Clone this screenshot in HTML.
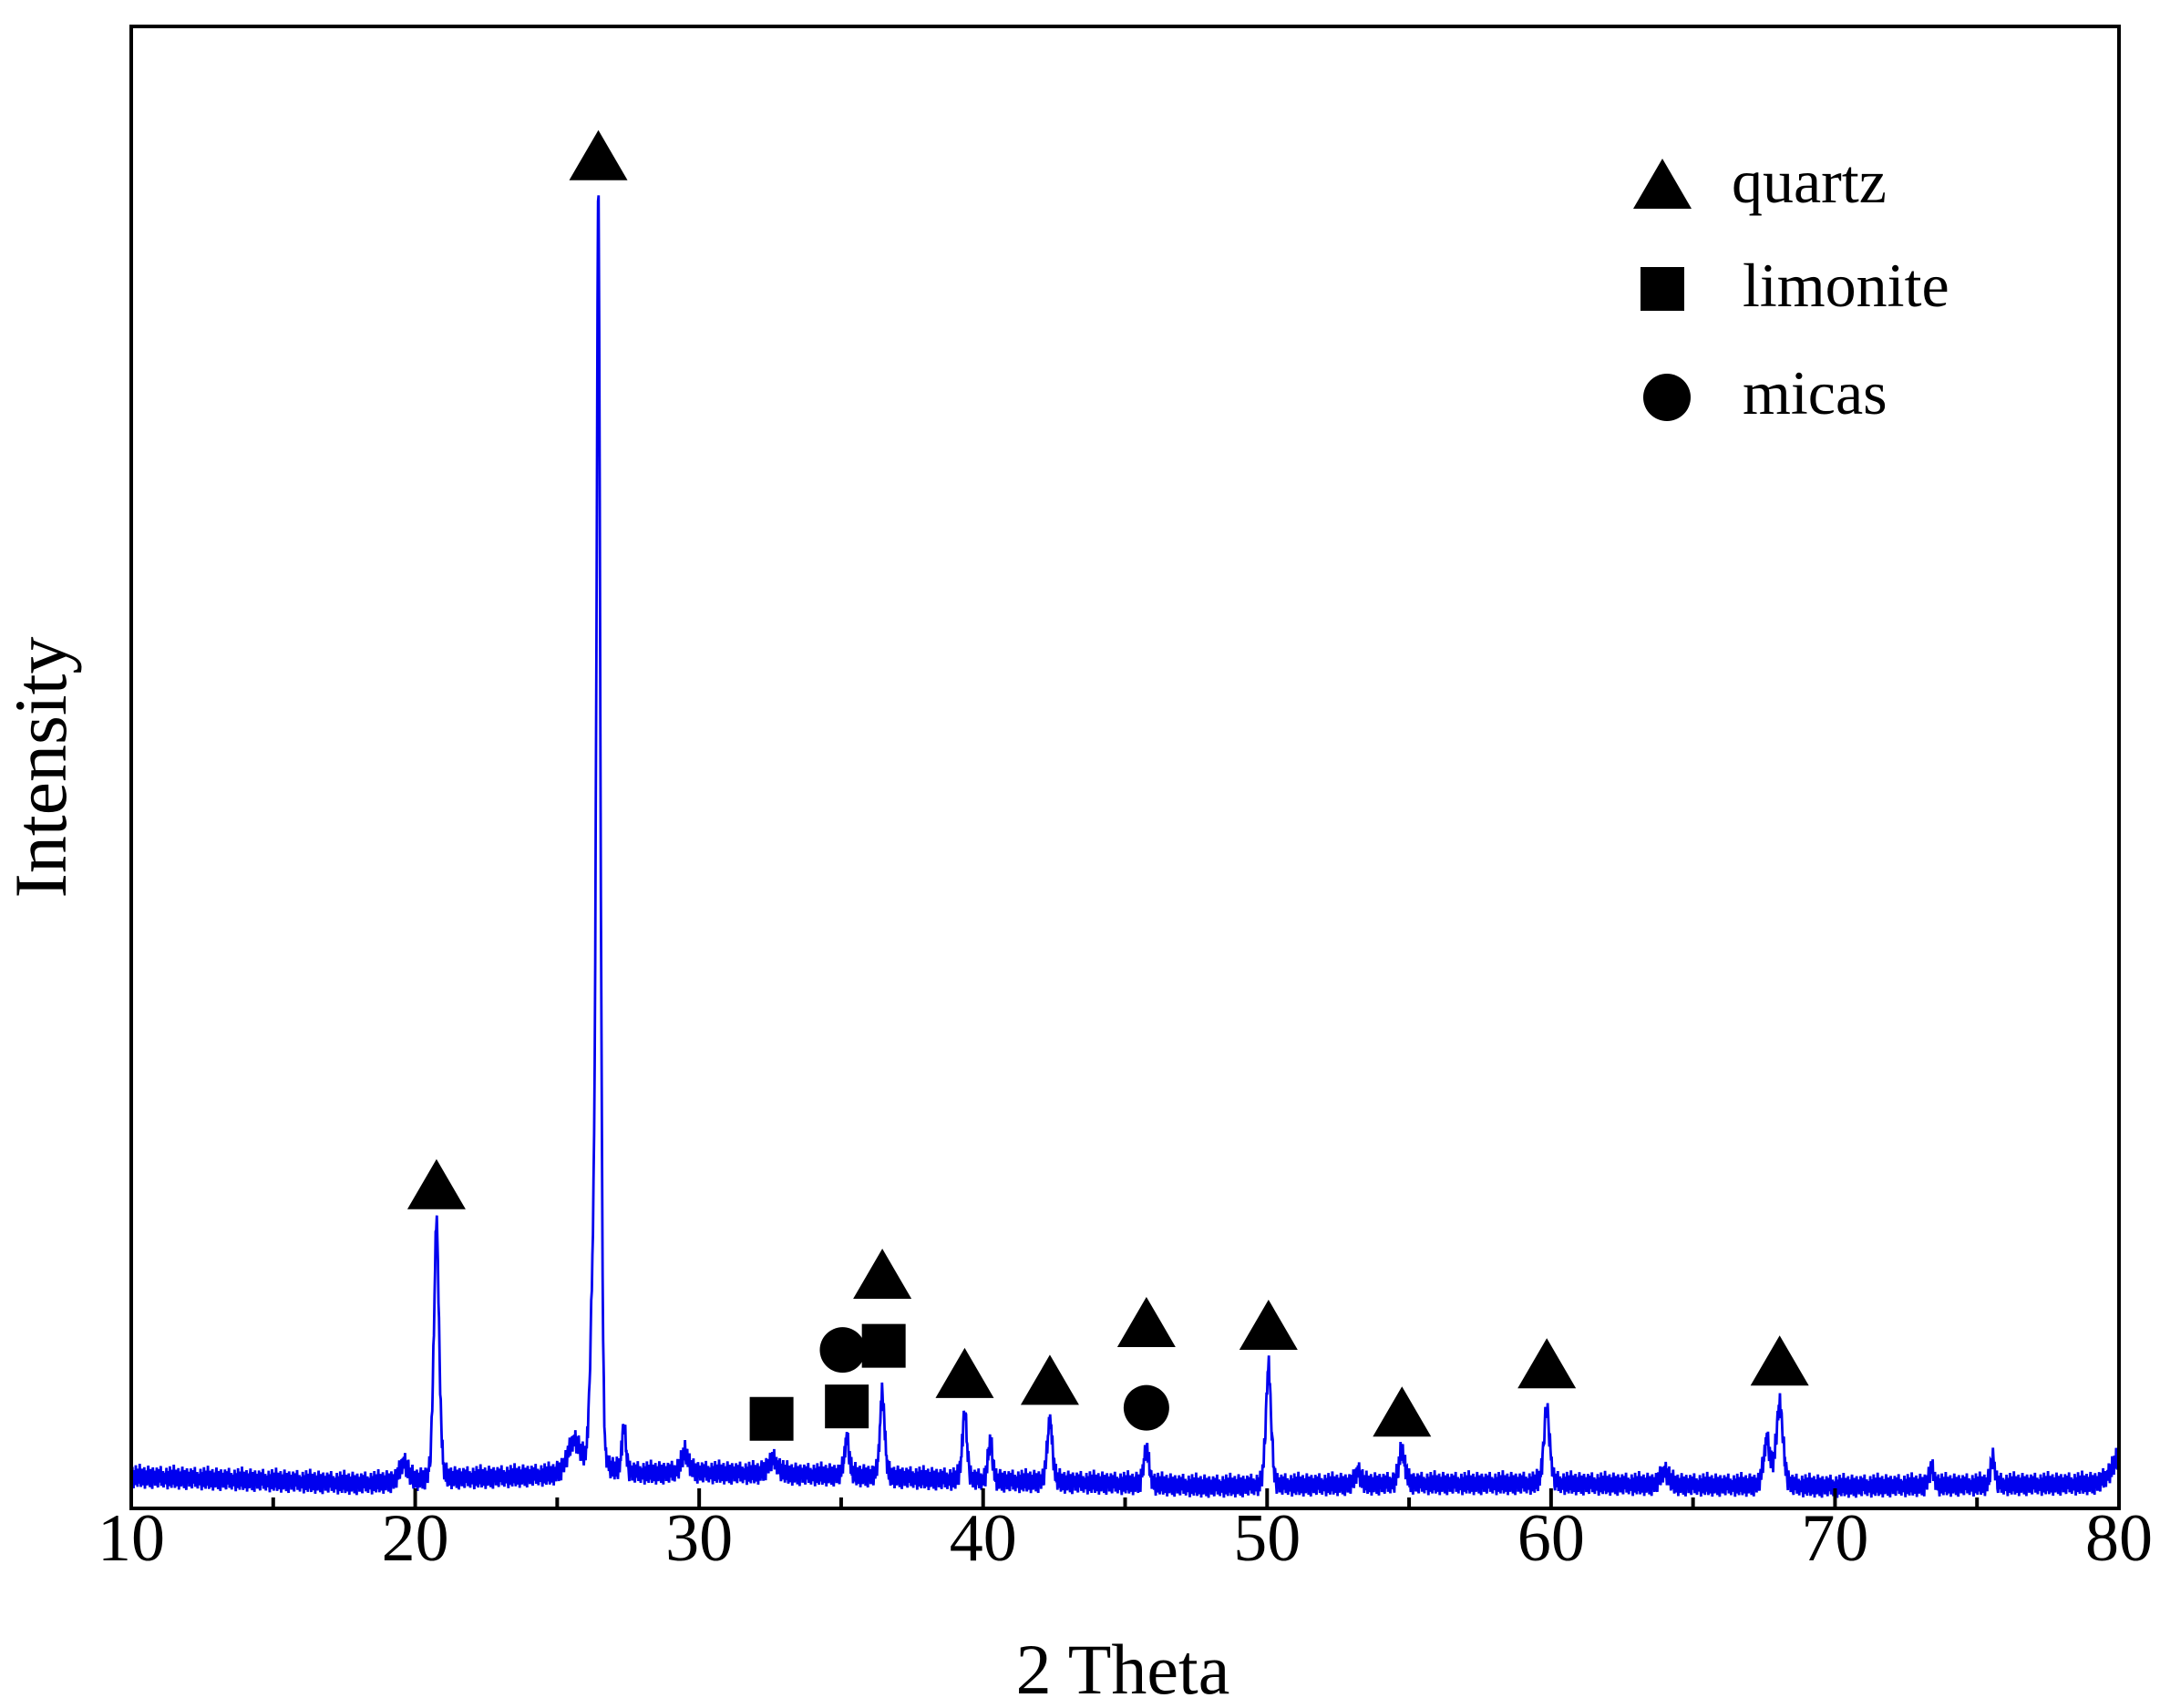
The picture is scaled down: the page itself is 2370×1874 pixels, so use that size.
<!DOCTYPE html>
<html><head><meta charset="utf-8"><style>
html,body{margin:0;padding:0;background:#fff;}
svg{display:block;}
text{font-family:"Liberation Serif",serif;fill:#000;}
</style></head><body>
<svg id="chart" width="2370" height="1874" viewBox="0 0 2370 1874" xmlns="http://www.w3.org/2000/svg">
<g id="plot"></g>
<g id="xaxis"></g>
<rect x="144" y="29" width="2181" height="1626" fill="none" stroke="#000" stroke-width="4"/>
<text x="1232" y="1858" font-size="78" text-anchor="middle">2 Theta</text>
<text transform="translate(72,842) rotate(-90)" font-size="82" text-anchor="middle">Intensity</text>
<g>
<polygon points="1824,174 1792,229 1856,229" fill="#000"/>
<text x="1900" y="222" font-size="68">quartz</text>
<rect x="1800" y="293" width="48" height="48" fill="#000"/>
<text x="1912" y="336" font-size="68">limonite</text>
<circle cx="1829" cy="436" r="26" fill="#000"/>
<text x="1912" y="454" font-size="68">micas</text>
</g>
<g id="markers"></g>
</svg>
<script>
// peak list: 2theta position, height (intensity units), sigma (deg)
const peakPos = [19.6, 20.75, 25.6, 26.25, 26.45, 27.35, 29.5, 32.6, 35.2, 36.45, 39.35, 40.25, 42.35, 45.75, 50.05, 53.2, 54.75, 59.85, 64.0, 67.6, 68.05, 73.4, 75.55, 80.0];
const peakHeight = [14, 190, 24, 120, 925, 34, 14, 10, 28, 62, 50, 28, 46, 26, 88, 10, 24, 56, 10, 34, 60, 12, 20, 18];
const peakWidth = [0.15, 0.1, 0.25, 0.1, 0.08, 0.08, 0.15, 0.2, 0.09, 0.09, 0.09, 0.09, 0.1, 0.1, 0.1, 0.1, 0.12, 0.11, 0.15, 0.12, 0.13, 0.1, 0.08, 0.3];
// background: 2theta and intensity level
const bgPos = [10, 15, 18, 22, 25, 30, 35, 40, 45, 48, 55, 60, 65, 70, 80];
const bgLevel = [23, 20, 18, 22, 24, 26, 24, 20, 18, 16, 18, 18, 17, 16, 18];
// hand-read noise pattern (intensity units)
const noise = [3,-4,6,-2,-7,4,1,-5,7,-3,2,-6,5,0,-4,8,-2,-6,3,5,-5,1,-3,6,-7,2,4,-1,-5,3,7,-4,0,-6,5,2,-3,-7,6,1,-2,4,-5,3,-1,6,-4,-6,2,5,-3,0,7,-5,1,-2,4,-6,3,-1];
// markers
const triX = [20.75, 26.45, 36.45, 39.35, 42.35, 45.75, 50.05, 54.75, 59.85, 68.05];
const triY = [235, 982, 170, 98, 93, 135, 133, 70, 105, 107];
const sqX = [32.55, 35.2, 36.5];
const sqY = [65, 74, 118];
const circX = [35.05, 45.75];
const circY = [115, 73];
const xTicks = [10, 20, 30, 40, 50, 60, 70, 80];

const L=144, R=2325, B=1655, S=1.5115;
const xs = t => L + (t-10)/70*(R-L);
const ys = v => B - v*S;
const NS='http://www.w3.org/2000/svg';
function bg(t){for(let i=0;i<bgPos.length-1;i++){if(t<=bgPos[i+1]){const f=(t-bgPos[i])/(bgPos[i+1]-bgPos[i]);return bgLevel[i]+f*(bgLevel[i+1]-bgLevel[i]);}}return bgLevel[bgLevel.length-1];}
let d='';let k=0;
for(let t=10;t<=80.0001;t+=0.02){
  let v=bg(t)+noise[k%noise.length]*1.2;k++;
  for(let j=0;j<peakPos.length;j++){const z=(t-peakPos[j])/peakWidth[j];v+=peakHeight[j]*(0.7*Math.exp(-0.5*z*z)+0.3/(1+z*z*2));}
  d+=(d?'L':'M')+xs(t).toFixed(1)+','+ys(v).toFixed(1);
}
const plot=document.getElementById('plot');
const p=document.createElementNS(NS,'path');


p.setAttribute('d',d);p.setAttribute('fill','none');p.setAttribute('stroke','#0000ee');p.setAttribute('stroke-width','2.8');
plot.appendChild(p);

const xa=document.getElementById('xaxis');
for(let t=10;t<=80;t+=5){
  const major=t%10===0;
  const ln=document.createElementNS(NS,'line');
  
  
  ln.setAttribute('x1',xs(t));ln.setAttribute('x2',xs(t));ln.setAttribute('y1',B);ln.setAttribute('y2',B-(major?22:12));
  ln.setAttribute('stroke','#000');ln.setAttribute('stroke-width','4');xa.appendChild(ln);
}
xTicks.forEach(t=>{
  const tx=document.createElementNS(NS,'text');
  
  
  tx.setAttribute('x',xs(t));tx.setAttribute('y',1712);tx.setAttribute('font-size','74');tx.setAttribute('text-anchor','middle');
  tx.textContent=t;xa.appendChild(tx);
});
const mk=document.getElementById('markers');
triX.forEach((t,i)=>{const x=xs(t),y=ys(triY[i]);
  const e=document.createElementNS(NS,'polygon');
  
  
  e.setAttribute('points',`${x},${y-28} ${x-32},${y+27} ${x+32},${y+27}`);mk.appendChild(e);});
sqX.forEach((t,i)=>{const x=xs(t),y=ys(sqY[i]);
  const e=document.createElementNS(NS,'rect');
  
  
  e.setAttribute('x',x-24);e.setAttribute('y',y-24);e.setAttribute('width',48);e.setAttribute('height',48);mk.appendChild(e);});
circX.forEach((t,i)=>{const x=xs(t),y=ys(circY[i]);
  const e=document.createElementNS(NS,'circle');
  
  
  e.setAttribute('cx',x);e.setAttribute('cy',y);e.setAttribute('r',25);mk.appendChild(e);});
</script>
</body></html>
